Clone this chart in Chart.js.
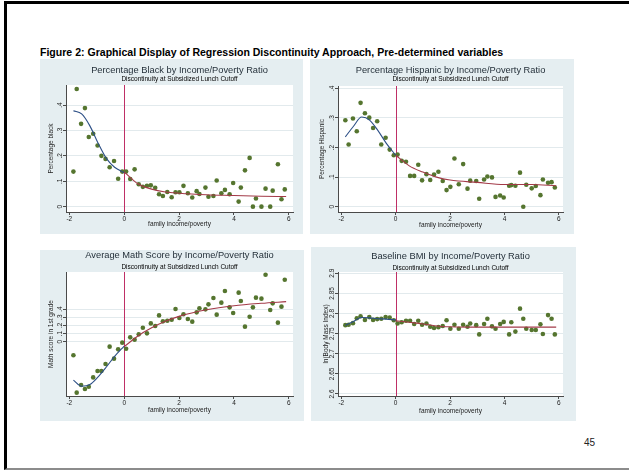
<!DOCTYPE html>
<html>
<head>
<meta charset="utf-8">
<title>Figure 2: Regression Discontinuity, Pre-determined variables</title>
<script src="https://cdn.jsdelivr.net/npm/chart.js@4.4.1/dist/chart.umd.min.js"></script>
<style>
  html, body { margin: 0; padding: 0; background: #fff; }
  body { width: 629px; height: 471px; position: relative; overflow: hidden;
         font-family: "Liberation Sans", Arial, Helvetica, sans-serif; }
  .slide-frame { position: absolute; left: 4px; top: 1px; width: 625px; height: 469px;
                 box-sizing: border-box; border-top: 3px solid #000; border-left: 3px solid #000;
                 border-bottom: 2px solid #8c8c8c; }
  .fig-title { position: absolute; left: 40px; top: 46px; font-size: 10.55px; line-height: 12px;
               font-weight: bold; color: #000; white-space: nowrap; }
  .page-num { position: absolute; left: 584px; top: 437px; font-size: 10px; line-height: 12px; color: #222; }
  .panel { position: absolute; background: #e5eef1; }
  canvas { position: absolute; }
</style>
</head>
<body>
<div class="slide-frame"></div>
<div class="fig-title">Figure 2: Graphical Display of Regression Discontinuity Approach, Pre-determined variables</div>
<div id="charts"></div>
<div class="page-num">45</div>

<script>
// Bin means (x = family income/poverty, centred on the cutoff)
const incomeBins = [-1.85, -1.73, -1.57, -1.43, -1.29, -1.13, -0.97, -0.83, -0.68, -0.53, -0.37, -0.22, -0.07,
    0.07, 0.22, 0.38, 0.53, 0.68, 0.83, 0.97, 1.13, 1.27, 1.41, 1.57, 1.73, 1.87, 2.01, 2.16, 2.32, 2.48,
    2.64, 2.74, 2.96, 3.07, 3.25, 3.37, 3.54, 3.67, 3.84, 3.97, 4.17, 4.25, 4.4, 4.57, 4.69, 4.8, 5.0,
    5.15, 5.32, 5.41, 5.6, 5.73, 5.85];

const pctBlack = [0.138, 0.463, 0.326, 0.388, 0.274, 0.287, 0.241, 0.2, 0.188, 0.155, 0.18, 0.11, 0.138,
    0.138, 0.109, 0.147, 0.088, 0.078, 0.082, 0.084, 0.074, 0.049, 0.042, 0.058, 0.037, 0.057, 0.057, 0.082,
    0.053, 0.036, 0.061, 0.05, 0.075, 0.039, 0.042, 0.103, 0.053, 0.066, 0.049, 0.093, 0.02, 0.075, 0.143,
    0.192, 0.0, 0.032, 0.0, 0.071, 0.0, 0.063, 0.167, 0.029, 0.068];

const pctHispanic = [0.292, 0.21, 0.298, 0.255, 0.351, 0.316, 0.301, 0.266, 0.289, 0.21, 0.233, 0.193, 0.174,
    0.176, 0.155, 0.152, 0.104, 0.104, 0.142, 0.089, 0.11, 0.09, 0.109, 0.118, 0.087, 0.056, 0.067, 0.163,
    0.076, 0.144, 0.061, 0.088, 0.087, 0.027, 0.092, 0.102, 0.099, 0.033, 0.038, 0.031, 0.071, 0.073, 0.071,
    0.115, 0.0, 0.074, 0.062, 0.07, 0.039, 0.092, 0.081, 0.083, 0.065];

const mathScore = [-0.167, -0.624, -0.531, -0.58, -0.551, -0.437, -0.359, -0.359, -0.273, -0.061, -0.208, -0.094,
    -0.012, -0.086, 0.053, 0.024, 0.09, 0.171, 0.102, 0.224, 0.192, 0.322, 0.249, 0.257, 0.269, 0.4, 0.29,
    0.335, 0.278, 0.245, 0.359, 0.408, 0.396, 0.457, 0.535, 0.331, 0.478, 0.62, 0.42, 0.351, 0.6, 0.498,
    0.184, 0.306, 0.42, 0.539, 0.527, 0.82, 0.388, 0.469, 0.233, 0.429, 0.759];

const lnBmi = [2.771, 2.772, 2.776, 2.788, 2.793, 2.784, 2.791, 2.784, 2.786, 2.787, 2.791, 2.79, 2.783,
    2.775, 2.778, 2.782, 2.782, 2.774, 2.782, 2.772, 2.775, 2.767, 2.764, 2.766, 2.769, 2.783, 2.762, 2.772,
    2.762, 2.772, 2.767, 2.775, 2.771, 2.748, 2.774, 2.787, 2.768, 2.762, 2.774, 2.779, 2.748, 2.778, 2.755,
    2.812, 2.787, 2.762, 2.759, 2.759, 2.773, 2.749, 2.796, 2.787, 2.748];

// Fitted curves on each side of the cutoff
const fitLeftX = [-1.85, -1.55, -1.25, -0.95, -0.65, -0.35, 0];
const fitRightX = [0, 0.5, 1, 1.5, 2, 3, 4, 5, 5.9];

const blackFitLeft = [0.378, 0.365, 0.318, 0.25, 0.19, 0.155, 0.134];
const blackFitRight = [0.137, 0.09, 0.069, 0.058, 0.053, 0.047, 0.044, 0.041, 0.04];
const hispanicFitLeft = [0.236, 0.272, 0.303, 0.292, 0.257, 0.215, 0.174];
const hispanicFitRight = [0.174, 0.138, 0.117, 0.1, 0.09, 0.082, 0.075, 0.075, 0.071];
const mathFitLeft = [-0.47, -0.545, -0.525, -0.43, -0.31, -0.18, -0.053];
const mathFitRight = [-0.061, 0.07, 0.17, 0.25, 0.31, 0.39, 0.44, 0.47, 0.49];
const bmiFitLeft = [2.771, 2.78, 2.79, 2.789, 2.787, 2.786, 2.784];
const bmiFitRight = [2.782, 2.778, 2.774, 2.769, 2.767, 2.766, 2.766, 2.766, 2.766];

const cutoff = 0;

// Tick values and their labels
const xTicks = [-2, 0, 2, 4, 6];
const xTickLabels = ['-2', '0', '2', '4', '6'];
const shareTicks = [0, 0.1, 0.2, 0.3, 0.4];
const shareTickLabels = ['0', '.1', '.2', '.3', '.4'];
const bmiTicks = [2.6, 2.65, 2.7, 2.75, 2.8, 2.85, 2.9];
const bmiTickLabels = ['2.6', '2.65', '2.7', '2.75', '2.8', '2.85', '2.9'];

const subtitleText = 'Discontinuity at Subsidized Lunch Cutoff';
const xTitleText = 'family income/poverty';

const FONT = "'Liberation Sans', Arial, Helvetica, sans-serif";
const COLORS = {
    marker: '#55752f',
    fitLeft: '#2c4f86',
    fitRight: '#a33a48',
    cutoff: '#bf2f66',
    grid: '#e2eaed',
    axis: '#4a4a4a',
    text: '#222222',
    title: '#1f2b35'
};
const SIZES = { title: 9.3, subtitle: 6.5, axisTitle: 6.5, tick: 6.5, tickLen: 3, yLabelGap: 6 };

// Panel layout (pixel boxes measured on the reference)
const panels = [
    {
        title: 'Percentage Black by Income/Poverty Ratio', yTitle: 'Percentage black',
        values: pctBlack, fitLeft: blackFitLeft, fitRight: blackFitRight,
        yTicks: shareTicks, yTickLabels: shareTickLabels, yMin: -0.021, yMax: 0.479,
        box: { left: 40, top: 59, width: 263, height: 175 },
        area: { left: 66, right: 297, top: 85, bottom: 212 },
        titleY: 70.5, subY: 79, xTitleY: 224.5, yTitleX: 51.3
    },
    {
        title: 'Percentage Hispanic by Income/Poverty Ratio', yTitle: 'Percentage Hispanic',
        values: pctHispanic, fitLeft: hispanicFitLeft, fitRight: hispanicFitRight,
        yTicks: shareTicks, yTickLabels: shareTickLabels, yMin: -0.018, yMax: 0.408,
        box: { left: 310, top: 59, width: 264, height: 175 },
        area: { left: 338, right: 567, top: 86, bottom: 212 },
        titleY: 70.5, subY: 79.5, xTitleY: 225, yTitleX: 322.3
    },
    {
        title: 'Average Math Score by Income/Poverty Ratio', yTitle: 'Math score in 1st grade',
        values: mathScore, fitLeft: mathFitLeft, fitRight: mathFitRight,
        yTicks: shareTicks, yTickLabels: shareTickLabels, yMin: -0.665, yMax: 0.853,
        box: { left: 40, top: 250, width: 264, height: 171 },
        area: { left: 66, right: 297, top: 272, bottom: 396 },
        titleY: 255.5, subY: 267, xTitleY: 410.5, yTitleX: 50.8
    },
    {
        title: 'Baseline BMI by Income/Poverty Ratio', yTitle: 'ln(Body Mass Index)',
        values: lnBmi, fitLeft: bmiFitLeft, fitRight: bmiFitRight,
        yTicks: bmiTicks, yTickLabels: bmiTickLabels, yMin: 2.595, yMax: 2.903,
        box: { left: 311, top: 247, width: 265, height: 174 },
        area: { left: 338, right: 567, top: 272, bottom: 396 },
        titleY: 256.5, subY: 268, xTitleY: 411, yTitleX: 326
    }
];

const measureCtx = document.createElement('canvas').getContext('2d');
function textWidth(str, size) {
    measureCtx.font = size + 'px ' + FONT;
    return measureCtx.measureText(str).width;
}

function toPoints(xs, ys) {
    return xs.map((x, i) => ({ x: x, y: ys[i] }));
}

// white plot region like Stata's plotregion
const plotAreaPlugin = {
    id: 'plotArea',
    beforeDraw(chart) {
        const { ctx, chartArea } = chart;
        ctx.save();
        ctx.fillStyle = '#ffffff';
        ctx.fillRect(chartArea.left, chartArea.top, chartArea.right - chartArea.left, chartArea.bottom - chartArea.top);
        ctx.restore();
    }
};

// vertical line at the subsidized lunch cutoff
const cutoffLinePlugin = {
    id: 'cutoffLine',
    beforeDatasetsDraw(chart) {
        const { ctx, chartArea, scales } = chart;
        const px = Math.round(scales.x.getPixelForValue(cutoff)) + 0.5;
        ctx.save();
        ctx.strokeStyle = COLORS.cutoff;
        ctx.lineWidth = 1;
        ctx.beginPath();
        ctx.moveTo(px, chartArea.top);
        ctx.lineTo(px, chartArea.bottom);
        ctx.stroke();
        ctx.restore();
    }
};

function renderPanel(p, holder) {
    const bg = document.createElement('div');
    bg.className = 'panel';
    bg.style.left = p.box.left + 'px';
    bg.style.top = p.box.top + 'px';
    bg.style.width = p.box.width + 'px';
    bg.style.height = p.box.height + 'px';
    holder.appendChild(bg);

    const yAxisWidth = p.area.left - p.box.left;
    const canvas = document.createElement('canvas');
    canvas.width = p.area.right - p.box.left;
    canvas.height = p.box.height;
    canvas.style.left = p.box.left + 'px';
    canvas.style.top = p.box.top + 'px';
    holder.appendChild(canvas);

    const tLH = SIZES.title, sLH = SIZES.subtitle;
    const titleRel = p.titleY - p.box.top;
    const subRel = p.subY - p.box.top;
    const areaTopRel = p.area.top - p.box.top;
    const xAxisHeight = p.box.top + p.box.height - p.area.bottom;
    const axisLH = SIZES.axisTitle * 1.2;

    const widest = Math.max(...p.yTickLabels.map(l => textWidth(l, SIZES.tick)));
    const yTickPad = SIZES.yLabelGap - SIZES.tickLen - widest / 2;

    return new Chart(canvas.getContext('2d'), {
        type: 'scatter',
        data: {
            datasets: [
                {
                    label: 'fit below cutoff',
                    data: toPoints(fitLeftX, p.fitLeft),
                    showLine: true,
                    borderColor: COLORS.fitLeft,
                    borderWidth: 1.1,
                    pointRadius: 0,
                    cubicInterpolationMode: 'monotone'
                },
                {
                    label: 'fit above cutoff',
                    data: toPoints(fitRightX, p.fitRight),
                    showLine: true,
                    borderColor: COLORS.fitRight,
                    borderWidth: 1.1,
                    pointRadius: 0,
                    cubicInterpolationMode: 'monotone'
                },
                {
                    label: 'bin means',
                    data: toPoints(incomeBins, p.values),
                    showLine: false,
                    pointRadius: 2.3,
                    pointBackgroundColor: COLORS.marker,
                    pointBorderColor: COLORS.marker,
                    pointBorderWidth: 0
                }
            ]
        },
        options: {
            responsive: false,
            animation: false,
            devicePixelRatio: 1,
            events: [],
            layout: { padding: 0 },
            plugins: {
                legend: { display: false },
                tooltip: { enabled: false },
                // fullSize off so the titles centre over the plot region
                title: {
                    display: true,
                    fullSize: false,
                    text: p.title,
                    color: COLORS.title,
                    font: { family: FONT, size: SIZES.title, weight: 'normal', lineHeight: 1 },
                    padding: { top: titleRel - tLH / 2, bottom: 0 }
                },
                subtitle: {
                    display: true,
                    fullSize: false,
                    text: subtitleText,
                    color: '#000',
                    font: { family: FONT, size: SIZES.subtitle, weight: 'normal', lineHeight: 1 },
                    padding: {
                        top: subRel - sLH / 2 - (titleRel + tLH / 2),
                        bottom: areaTopRel - (subRel + sLH / 2)
                    }
                }
            },
            scales: {
                x: {
                    type: 'linear',
                    min: -2.12,
                    max: 6.15,
                    afterBuildTicks: (scale) => { scale.ticks = xTicks.map(v => ({ value: v })); },
                    afterFit: (scale) => {
                        scale.height = xAxisHeight;
                        scale.paddingLeft = 0;
                        scale.paddingRight = 0;
                    },
                    ticks: {
                        padding: 0,
                        color: COLORS.text,
                        font: { family: FONT, size: SIZES.tick },
                        callback: (value, index) => xTickLabels[index]
                    },
                    grid: { drawOnChartArea: false, tickLength: SIZES.tickLen, tickColor: COLORS.axis },
                    border: { display: true, color: COLORS.axis, width: 1 },
                    title: {
                        display: true,
                        text: xTitleText,
                        color: COLORS.text,
                        font: { family: FONT, size: SIZES.axisTitle, lineHeight: 1.2 },
                        padding: { top: 0, bottom: (p.box.top + p.box.height - p.xTitleY) - axisLH / 2 }
                    }
                },
                y: {
                    type: 'linear',
                    min: p.yMin,
                    max: p.yMax,
                    afterBuildTicks: (scale) => { scale.ticks = p.yTicks.map(v => ({ value: v })); },
                    afterFit: (scale) => {
                        scale.width = yAxisWidth;
                        scale.paddingTop = 0;
                        scale.paddingBottom = 0;
                    },
                    ticks: {
                        minRotation: 90,
                        maxRotation: 90,
                        crossAlign: 'center',
                        padding: yTickPad,
                        color: COLORS.text,
                        font: { family: FONT, size: SIZES.tick },
                        callback: (value, index) => p.yTickLabels[index]
                    },
                    grid: { color: COLORS.grid, lineWidth: 1, tickLength: SIZES.tickLen, tickColor: COLORS.axis },
                    border: { display: true, color: COLORS.axis, width: 1 },
                    title: {
                        display: true,
                        text: p.yTitle,
                        color: COLORS.text,
                        font: { family: FONT, size: SIZES.axisTitle, lineHeight: 1.2 },
                        padding: { top: (p.yTitleX - p.box.left) - axisLH / 2, bottom: 0 }
                    }
                }
            }
        },
        plugins: [plotAreaPlugin, cutoffLinePlugin]
    });
}

document.addEventListener('DOMContentLoaded', () => {
    const holder = document.getElementById('charts');
    panels.forEach(p => renderPanel(p, holder));
});
</script>
</body>
</html>
